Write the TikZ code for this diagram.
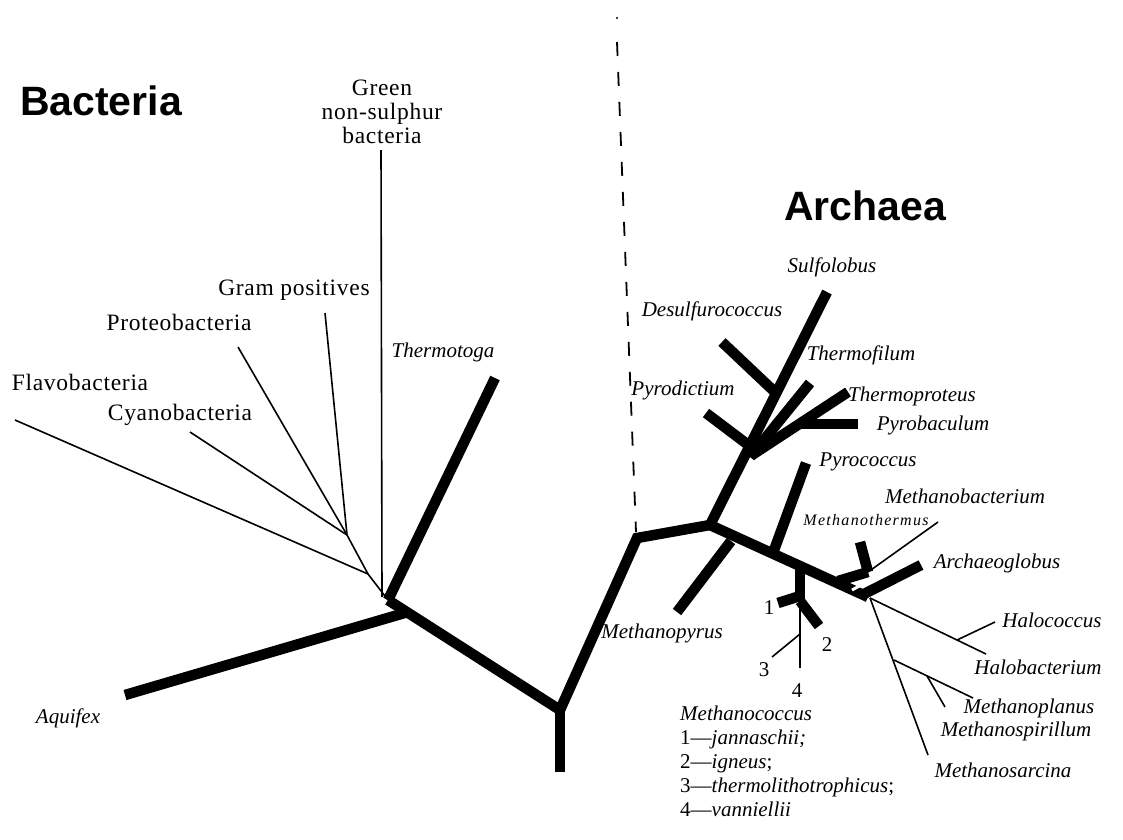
\documentclass[tikz,border=0pt]{standalone}
\usepackage{fontspec}
\setmainfont{Liberation Serif}
\newfontfamily\romlab{Liberation Serif}[LetterSpace=3]
\newfontfamily\smallit{Liberation Serif}[LetterSpace=8]
\newfontfamily\headfont{Liberation Sans}
\begin{document}
\begin{tikzpicture}[x=1pt,y=-1pt,
  tb/.style={line width=10.5pt,line cap=butt,line join=miter},
  tn/.style={line width=1.6pt,line cap=butt},
  ilab/.style={font=\fontsize{21}{24}\selectfont\itshape,inner sep=0pt},
  rlab/.style={font=\romlab\fontsize{23.5}{24}\selectfont,inner sep=0pt},
  hlab/.style={font=\headfont\fontsize{41}{46}\selectfont\bfseries,inner sep=0pt},
  nlab/.style={font=\fontsize{21}{24}\selectfont,inner sep=0pt}]
\useasboundingbox (0,0) rectangle (1123,839);
\fill[white] (0,0) rectangle (1123,839);
% ---------- coordinates: bacteria ----------
\coordinate (b0) at (388,600);
\coordinate (baq) at (408,612);
\coordinate (aqt) at (125,695);
\coordinate (b1) at (560,710);
\coordinate (root) at (560,772);
\coordinate (b2) at (637,538);
\coordinate (a0) at (710,525);
\coordinate (tmt) at (495,378);
\coordinate (gnt) at (381,150);
\coordinate (gnb) at (382,597);
\coordinate (j2) at (368,574);
\coordinate (j1) at (347,535);
\coordinate (flt) at (15,420);
\coordinate (cyt) at (190,432);
\coordinate (prt) at (238,347);
\coordinate (gpt) at (325,313);
% ---------- coordinates: archaea ----------
\coordinate (send) at (868,597);
\coordinate (sult) at (827,292);
\coordinate (dst) at (722,342);
\coordinate (dsb) at (777,394);
\coordinate (pdt) at (706,413);
\coordinate (pdb) at (751,447);
\coordinate (tft) at (810,383);
\coordinate (tfb) at (750,457);
\coordinate (tpt) at (848,392);
\coordinate (tpb) at (752,455);
\coordinate (pbt) at (858,424);
\coordinate (pbb) at (800,424);
\coordinate (mpb) at (731,541);
\coordinate (mpt) at (677,612);
\coordinate (pct) at (806,463);
\coordinate (pcb) at (773,553);
\coordinate (mcb) at (800,566);
\coordinate (mcj) at (800,601);
\coordinate (mc1) at (778,603);
\coordinate (mc1b) at (800,596);
\coordinate (mc2) at (819,626);
\coordinate (mc4) at (800,668);
\coordinate (mc3j) at (800,634);
\coordinate (mc3) at (772,657);
\coordinate (mbb) at (838,581);
\coordinate (mbj) at (868,572);
\coordinate (mbt) at (860,542);
\coordinate (mtt) at (938,522);
\coordinate (agb) at (864,594);
\coordinate (agt) at (921,565);
\coordinate (hj) at (870,598);
\coordinate (hbt) at (986,654);
\coordinate (hcb) at (957,640);
\coordinate (hct) at (995,622);
\coordinate (mst) at (928,755);
\coordinate (mpj) at (894,660);
\coordinate (mplt) at (973,698);
\coordinate (mspb) at (927,676);
\coordinate (mspt) at (945,707);
\coordinate (dtop) at (617,42);
\coordinate (dbot) at (636,532);
% ---------- bacteria branches ----------
\draw[tb] (aqt) -- (baq);
\draw[tb] (b0) -- (b1) -- (b2) -- (a0);
\draw[tb] (b1) -- (root);
\draw[tb] (b0) -- (tmt);
\draw[tn] (gnt) -- (gnb);
\draw[tn] (flt) -- (j2) -- (b0);
\draw[tn] (j1) -- (j2);
\draw[tn] (cyt) -- (j1);
\draw[tn] (prt) -- (j1);
\draw[tn] (gpt) -- (j1);
% ---------- dashed divider ----------
\draw[line width=1.8pt,dash pattern=on 14pt off 16pt] (dtop) -- (dbot);
\fill (617,18) circle (1.2pt);
% ---------- archaea branches ----------
\draw[tb] (a0) -- (send);
\draw[tb] (a0) -- (sult);
\draw[tb] (dst) -- (dsb);
\draw[tb] (pdt) -- (pdb);
\draw[tb] (tft) -- (tfb);
\draw[tb] (tpt) -- (tpb);
\draw[tb] (pbt) -- (pbb);
\draw[tb] (mpb) -- (mpt);
\draw[tb] (pct) -- (pcb);
\draw[tb] (mcb) -- (mcj);
\draw[tb] (mc1b) -- (mc1);
\draw[tb] (mcj) -- (mc2);
\draw[tn] (mcj) -- (mc4);
\draw[tn] (mc3j) -- (mc3);
\draw[tb] (mbb) -- (mbj);
\draw[tb] (mbj) -- (mbt);
\draw[tn] (mbj) -- (mtt);
\draw[white,line width=3pt] (852,590) -- (874,578);
\draw[tb] (agb) -- (agt);
\draw[tn] (hj) -- (hbt);
\draw[tn] (hcb) -- (hct);
\draw[tn] (hj) -- (mst);
\draw[tn] (mpj) -- (mplt);
\draw[tn] (mspb) -- (mspt);
% ---------- headings ----------
\node[hlab] (hb) at (101,101) {Bacteria};
\node[hlab] (ha) at (865,206) {Archaea};
% ---------- bacteria labels ----------
\node[rlab,align=center] (lgn) at (382,112) {Green\\non-sulphur\\bacteria};
\node[rlab] (lgp) at (294,290) {Gram positives};
\node[rlab] (lpr) at (179,322) {Proteobacteria};
\node[rlab] (lfl) at (80,382) {Flavobacteria};
\node[rlab] (lcy) at (180,415) {Cyanobacteria};
\node[ilab] (ltm) at (443,352) {Thermotoga};
\node[ilab] (laq) at (68,718) {Aquifex};
% ---------- archaea labels ----------
\node[ilab] (lsu) at (832,267) {Sulfolobus};
\node[ilab] (lds) at (712,311) {Desulfurococcus};
\node[ilab] (ltf) at (861,355) {Thermofilum};
\node[ilab] (lpd) at (683,390) {Pyrodictium};
\node[ilab] (ltp) at (912,396) {Thermoproteus};
\node[ilab] (lpb) at (933,425) {Pyrobaculum};
\node[ilab] (lpc) at (868,462) {Pyrococcus};
\node[ilab] (lmb) at (965,496) {Methanobacterium};
\node[inner sep=0pt,font=\smallit\fontsize{16}{18}\selectfont\itshape] (lmt) at (866,520) {Methanothermus};
\node[ilab] (lag) at (997,563) {Archaeoglobus};
\node[ilab] (lhc) at (1052,620) {Halococcus};
\node[ilab] (lhb) at (1038,667) {Halobacterium};
\node[ilab] (lmpl) at (1029,708) {Methanoplanus};
\node[ilab] (lmsp) at (1016,731) {Methanospirillum};
\node[ilab] (lms) at (1003,770) {Methanosarcina};
\node[ilab] (lmpy) at (662,633) {Methanopyrus};
\node[nlab] (n1) at (769,608) {1};
\node[nlab] (n2) at (827,645) {2};
\node[nlab] (n3) at (764,670) {3};
\node[nlab] (n4) at (797,691) {4};
\node[nlab,anchor=north west,align=left] (lmc) at (680,706)
 {\itshape Methanococcus\\
  1---\itshape jannaschii;\\
  2---\itshape igneus\upshape;\\
  3---\itshape thermolithotrophicus\upshape;\\
  4---\itshape vanniellii};
\end{tikzpicture}
\end{document}
